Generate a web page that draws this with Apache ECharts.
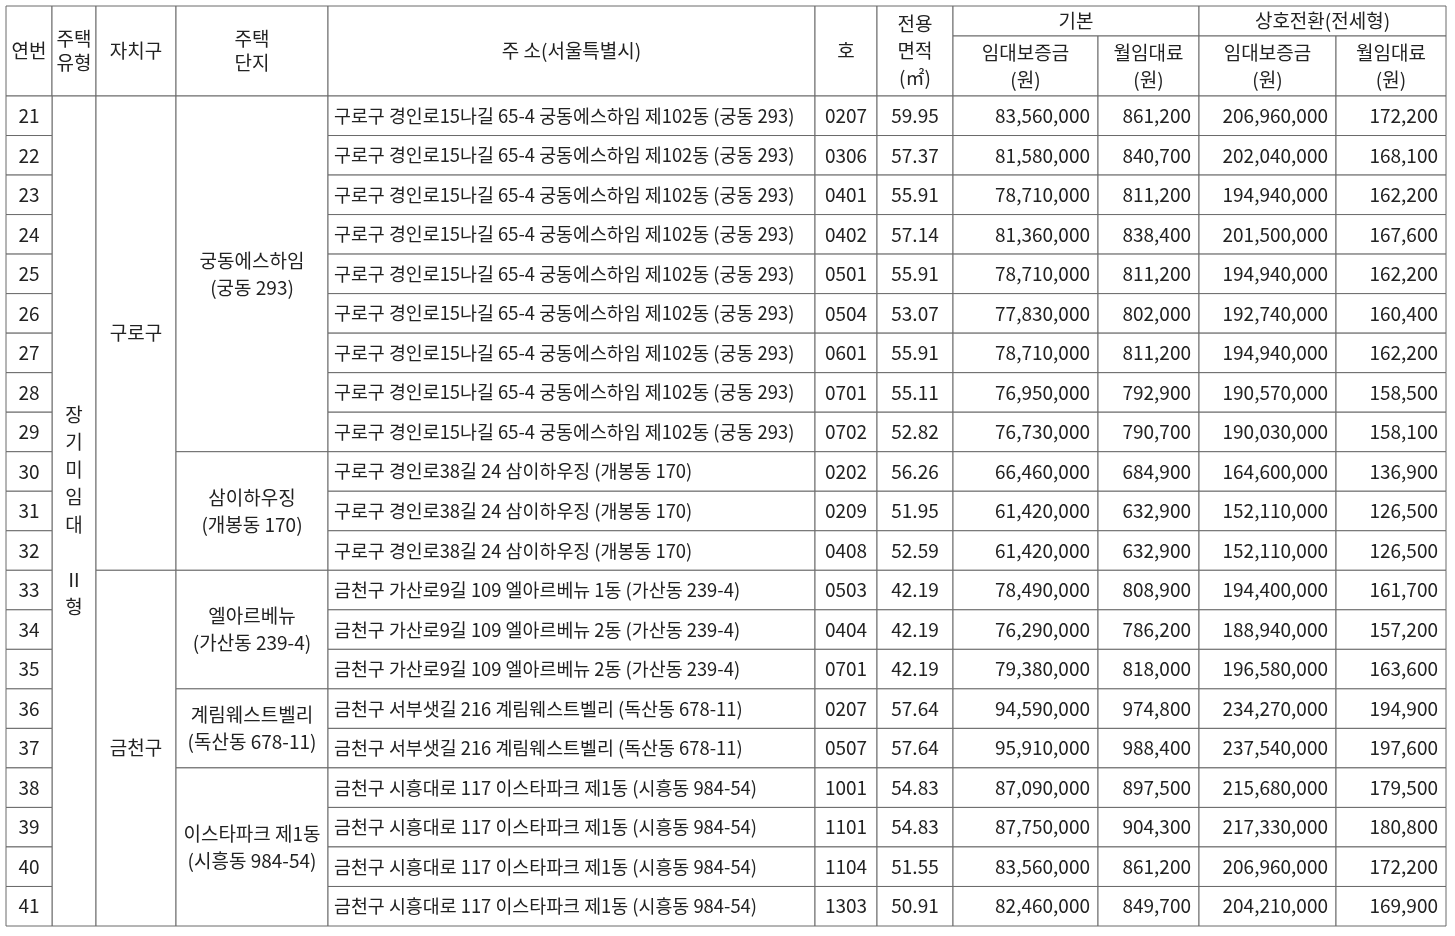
<!DOCTYPE html>
<html><head><meta charset="utf-8">
<script src="https://cdn.jsdelivr.net/npm/echarts@6/dist/echarts.min.js"></script>
<style>html,body{margin:0;background:#fff}#c{width:1455px;height:936px}</style>
</head><body><div id="c"></div>
<script>
const serial = [21,22,23,24,25,26,27,28,29,30,31,32,33,34,35,36,37,38,39,40,41];
const addresses = [
"구로구 경인로15나길 65-4 궁동에스하임 제102동 (궁동 293)",
"구로구 경인로15나길 65-4 궁동에스하임 제102동 (궁동 293)",
"구로구 경인로15나길 65-4 궁동에스하임 제102동 (궁동 293)",
"구로구 경인로15나길 65-4 궁동에스하임 제102동 (궁동 293)",
"구로구 경인로15나길 65-4 궁동에스하임 제102동 (궁동 293)",
"구로구 경인로15나길 65-4 궁동에스하임 제102동 (궁동 293)",
"구로구 경인로15나길 65-4 궁동에스하임 제102동 (궁동 293)",
"구로구 경인로15나길 65-4 궁동에스하임 제102동 (궁동 293)",
"구로구 경인로15나길 65-4 궁동에스하임 제102동 (궁동 293)",
"구로구 경인로38길 24 삼이하우징 (개봉동 170)",
"구로구 경인로38길 24 삼이하우징 (개봉동 170)",
"구로구 경인로38길 24 삼이하우징 (개봉동 170)",
"금천구 가산로9길 109 엘아르베뉴 1동 (가산동 239-4)",
"금천구 가산로9길 109 엘아르베뉴 2동 (가산동 239-4)",
"금천구 가산로9길 109 엘아르베뉴 2동 (가산동 239-4)",
"금천구 서부샛길 216 계림웨스트벨리 (독산동 678-11)",
"금천구 서부샛길 216 계림웨스트벨리 (독산동 678-11)",
"금천구 시흥대로 117 이스타파크 제1동 (시흥동 984-54)",
"금천구 시흥대로 117 이스타파크 제1동 (시흥동 984-54)",
"금천구 시흥대로 117 이스타파크 제1동 (시흥동 984-54)",
"금천구 시흥대로 117 이스타파크 제1동 (시흥동 984-54)"];
const unitNo = ["0207","0306","0401","0402","0501","0504","0601","0701","0702","0202","0209","0408","0503","0404","0701","0207","0507","1001","1101","1104","1303"];
const area = ["59.95","57.37","55.91","57.14","55.91","53.07","55.91","55.11","52.82","56.26","51.95","52.59","42.19","42.19","42.19","57.64","57.64","54.83","54.83","51.55","50.91"];
const baseDeposit = [83560000,81580000,78710000,81360000,78710000,77830000,78710000,76950000,76730000,66460000,61420000,61420000,78490000,76290000,79380000,94590000,95910000,87090000,87750000,83560000,82460000];
const baseRent = [861200,840700,811200,838400,811200,802000,811200,792900,790700,684900,632900,632900,808900,786200,818000,974800,988400,897500,904300,861200,849700];
const convDeposit = [206960000,202040000,194940000,201500000,194940000,192740000,194940000,190570000,190030000,164600000,152110000,152110000,194400000,188940000,196580000,234270000,237540000,215680000,217330000,206960000,204210000];
const convRent = [172200,168100,162200,167600,162200,160400,162200,158500,158100,136900,126500,126500,161700,157200,163600,194900,197600,179500,180800,172200,169900];
const districts = [["구로구",0,11],["금천구",12,20]];
const complexes = [["궁동에스하임\n(궁동 293)",0,8],["삼이하우징\n(개봉동 170)",9,11],["엘아르베뉴\n(가산동 239-4)",12,14],["계림웨스트벨리\n(독산동 678-11)",15,16],["이스타파크 제1동\n(시흥동 984-54)",17,20]];
const houseType = "장\n기\n미\n임\n대\n\nⅡ\n형";

const colX = [6,52,96,176,328,815,877,953,1098,1199,1336,1446];
const headTop = 6, headMid = 36, bodyTop = 96, bodyBottom = 926;
const rowH = (bodyBottom-bodyTop)/serial.length;
const fmt = v => v.toLocaleString('en-US');

const cells = [];
function cell(c0,c1,y0,y1,text,align,lh,fs){cells.push([colX[c0],colX[c1],y0,y1,text,align||'center',lh||24,fs||19]);}
cell(0,1,headTop,bodyTop,"연번");
cell(1,2,headTop,bodyTop,"주택\n유형");
cell(2,3,headTop,bodyTop,"자치구");
cell(3,4,headTop,bodyTop,"주택\n단지");
cell(4,5,headTop,bodyTop,"주 소(서울특별시)");
cell(5,6,headTop,bodyTop,"호");
cell(6,7,headTop,bodyTop,"전용\n면적\n(㎡)",'center',27);
cell(7,9,headTop,headMid,"기본");
cell(9,11,headTop,headMid,"상호전환(전세형)");
cell(7,8,headMid,bodyTop,"임대보증금\n(원)",'center',27);
cell(8,9,headMid,bodyTop,"월임대료\n(원)",'center',27);
cell(9,10,headMid,bodyTop,"임대보증금\n(원)",'center',27);
cell(10,11,headMid,bodyTop,"월임대료\n(원)",'center',27);
cell(1,2,bodyTop,bodyBottom,houseType,'center',27.5);
districts.forEach(d=>cell(2,3,bodyTop+d[1]*rowH,bodyTop+(d[2]+1)*rowH,d[0]));
complexes.forEach(d=>cell(3,4,bodyTop+d[1]*rowH,bodyTop+(d[2]+1)*rowH,d[0],'center',27));
serial.forEach((s,i)=>{
  const y0=bodyTop+i*rowH, y1=y0+rowH;
  cell(0,1,y0,y1,String(s));
  cell(4,5,y0,y1,addresses[i],'left',24,18.4);
  cell(5,6,y0,y1,unitNo[i]);
  cell(6,7,y0,y1,area[i]);
  cell(7,8,y0,y1,fmt(baseDeposit[i]),'right');
  cell(8,9,y0,y1,fmt(baseRent[i]),'right');
  cell(9,10,y0,y1,fmt(convDeposit[i]),'right');
  cell(10,11,y0,y1,fmt(convRent[i]),'right');
});

const chart = echarts.init(document.getElementById('c'));
chart.setOption({
  animation:false,
  grid:{left:0,right:0,top:0,bottom:0},
  xAxis:{type:'value',min:0,max:1455,show:false},
  yAxis:{type:'value',min:0,max:936,inverse:true,show:false},
  series:[{type:'custom',coordinateSystem:'cartesian2d',data:cells,
    encode:{x:[0,1],y:[2,3]},
    renderItem:(params,api)=>{
      const d=cells[params.dataIndex];
      const p0=api.coord([d[0],d[2]]), p1=api.coord([d[1],d[3]]);
      const w=p1[0]-p0[0], h=p1[1]-p0[1];
      const tx = d[5]==='left'? p0[0]+6 : d[5]==='right'? p1[0]-8 : p0[0]+w/2;
      return {type:'group',children:[
        {type:'rect',shape:{x:p0[0],y:p0[1],width:w,height:h},style:{fill:'#fff',stroke:'#6a6a6a',lineWidth:1}},
        {type:'text',style:{x:tx,y:p0[1]+h/2,text:d[4],align:d[5],verticalAlign:'middle',
          font:d[7]+'px "Noto Sans CJK KR"',fill:'#222',lineHeight:d[6]}}
      ]};
    }}]
});
</script></body></html>
